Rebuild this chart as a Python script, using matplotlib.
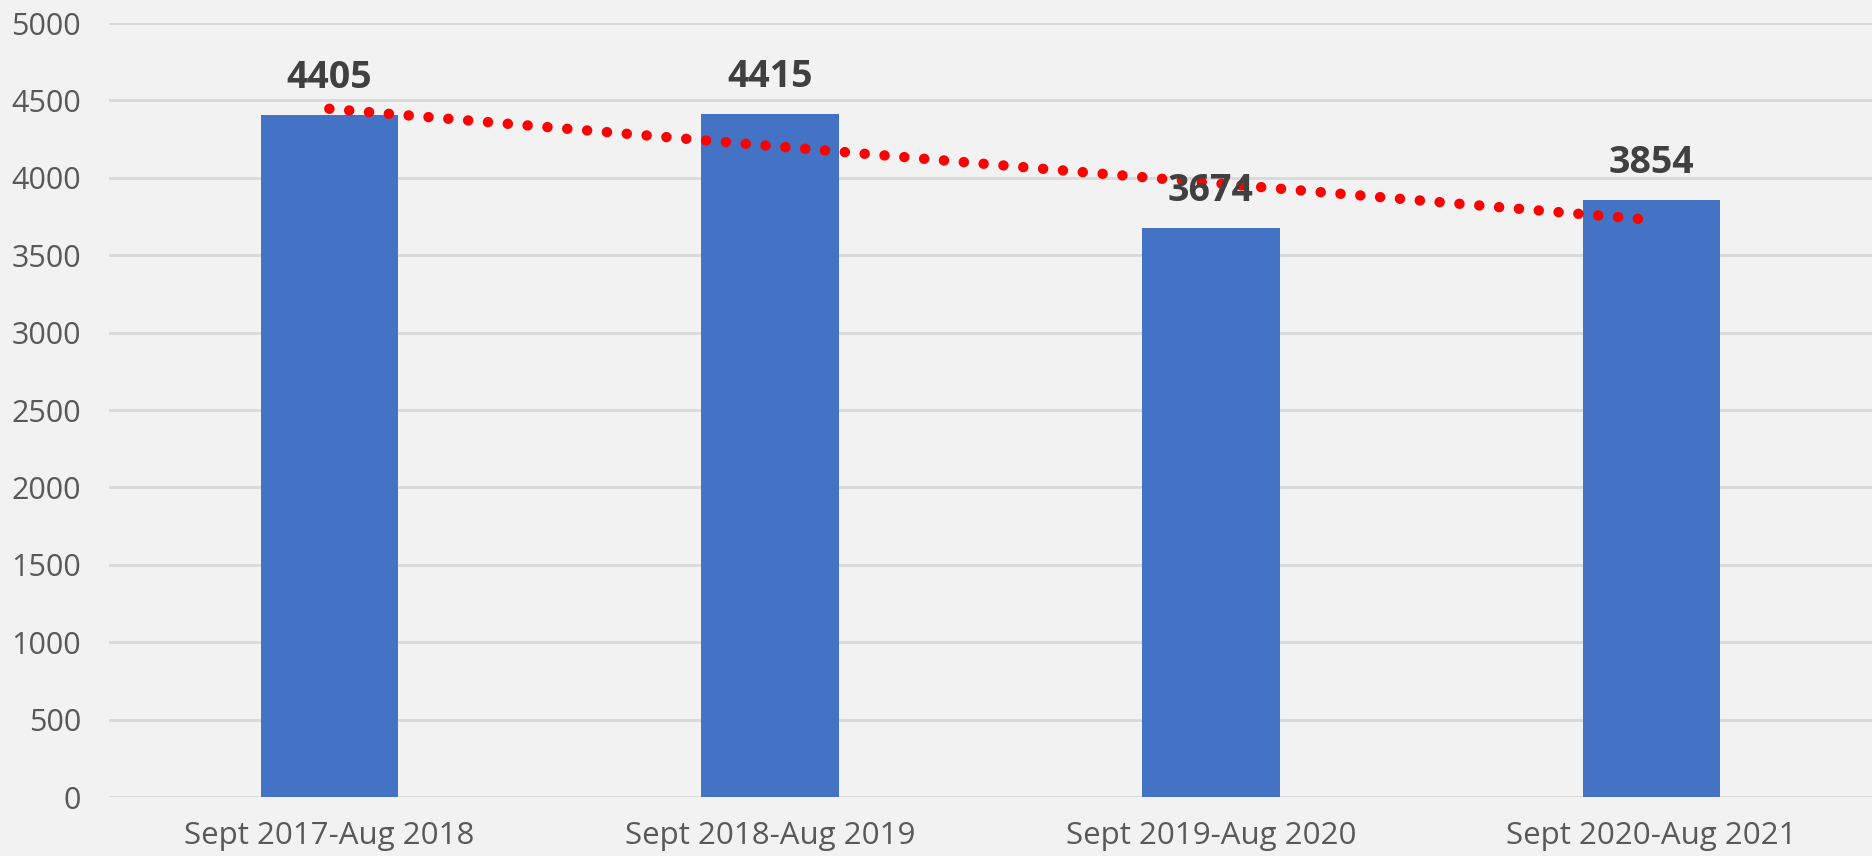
import numpy as np
import matplotlib.pyplot as plt

periods = ['Sept 2017-Aug 2018', 'Sept 2018-Aug 2019', 'Sept 2019-Aug 2020', 'Sept 2020-Aug 2021']
counts = [4405, 4415, 3674, 3854]

plt.rcParams['font.family'] = ['Open Sans', 'DejaVu Sans']

fig = plt.figure(figsize=(18.72, 8.56), dpi=100, facecolor='#f2f2f2')
ax = fig.add_axes([0.0582, 0.0689, 0.9418, 0.9042])
ax.set_facecolor('#f2f2f2')

x = np.arange(len(counts))
ax.bar(x, counts, width=0.312, color='#4472c4', zorder=2)

# linear trendline
slope, icpt = np.polyfit(x + 1, counts, 1)
ax.plot(x, slope * (x + 1) + icpt, color='#ff0000', lw=7.5, linestyle=(0, (0.01, 1.9)),
        dash_capstyle='round', zorder=3)

for xi, v in zip(x, counts):
    ax.annotate(str(v), (xi, v), xytext=(0, 18), textcoords='offset pixels',
                ha='center', va='bottom', fontsize=27, fontweight='bold', color='#404040', zorder=4)

ax.set_xlim(-0.5, 3.5)
ax.set_ylim(0, 5000)
ax.set_yticks(range(0, 5001, 500))
ax.set_xticks(x)
ax.set_xticklabels(periods)
ax.tick_params(axis='y', length=0, pad=20, labelsize=22, labelcolor='#595959')
ax.tick_params(axis='x', length=0, pad=17, labelsize=22.5, labelcolor='#595959')
ax.grid(axis='y', color='#d9d9d9', lw=2, zorder=0)
for s in ax.spines.values():
    s.set_visible(False)

fig.savefig('out.png', dpi=100, facecolor='#f2f2f2')
